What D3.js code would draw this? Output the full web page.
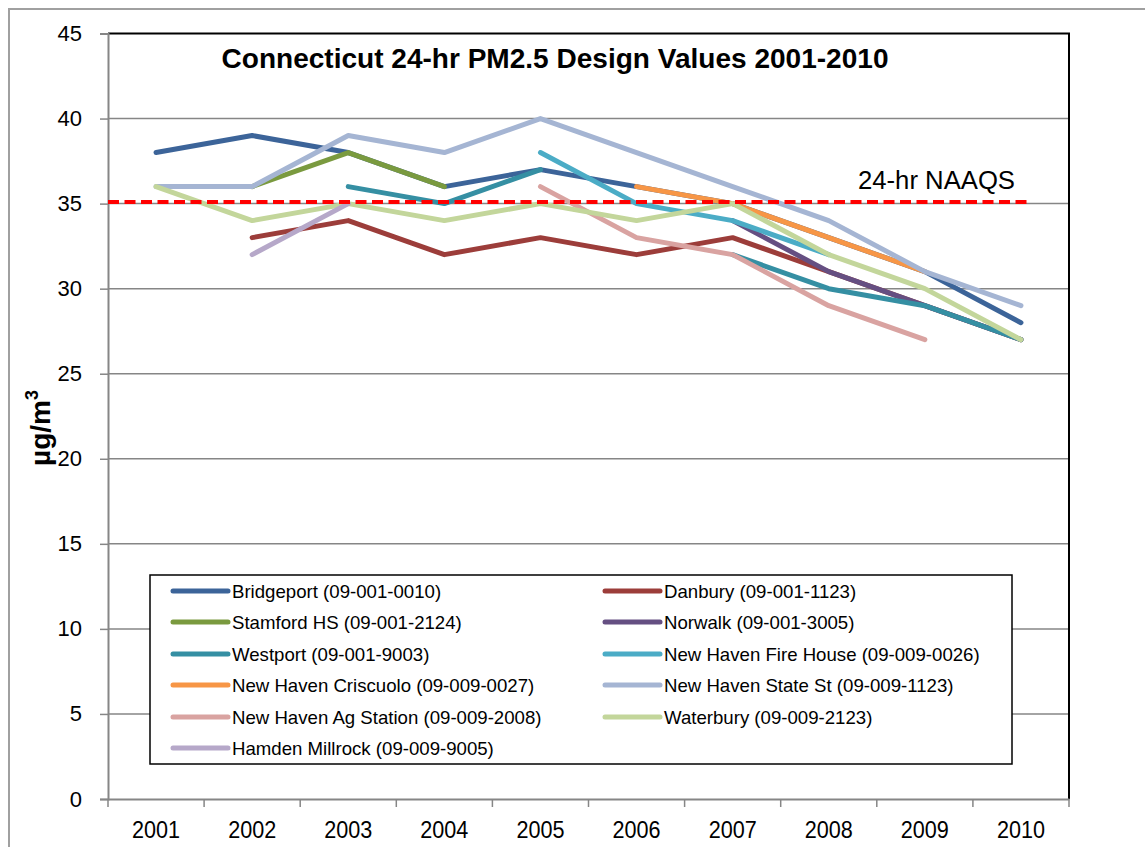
<!DOCTYPE html>
<html>
<head>
<meta charset="utf-8">
<script src="https://cdn.jsdelivr.net/npm/d3@7"></script>
<style>
  body { margin: 0; background: #fff; }
  text { font-family: "Liberation Sans", Arial, sans-serif; }
</style>
</head>
<body>
<script>
// years on the x axis
var years = ["2001","2002","2003","2004","2005","2006","2007","2008","2009","2010"];
var yTicks = [0,5,10,15,20,25,30,35,40,45];
var naaqs = 35.1;

// design values by site (null = no value)
var bridgeport = [38,39,38,36,37,36,35,33,31,28];
var danbury    = [null,33,34,32,33,32,33,31,29,27];
var stamford   = [null,36,38,36,null,null,null,null,null,null];
var norwalk    = [null,null,null,null,null,null,34,31,29,27];
var westport   = [null,null,36,35,37,null,32,30,29,27];
var fireHouse  = [null,null,null,null,38,35,34,32,null,null];
var criscuolo  = [null,null,null,null,null,36,35,33,31,null];
var stateSt    = [36,36,39,38,40,38,36,34,31,29];
var agStation  = [null,null,null,null,36,33,32,29,27,null];
var waterbury  = [36,34,35,34,35,34,35,32,30,27];
var hamden     = [null,32,35,null,null,null,null,null,null,null];

var names = ["Bridgeport (09-001-0010)","Danbury (09-001-1123)","Stamford HS (09-001-2124)",
  "Norwalk (09-001-3005)","Westport (09-001-9003)","New Haven Fire House (09-009-0026)",
  "New Haven Criscuolo (09-009-0027)","New Haven State St (09-009-1123)",
  "New Haven Ag Station (09-009-2008)","Waterbury (09-009-2123)","Hamden Millrock (09-009-9005)"];
var colors = ["#3c6499","#9c3d3a","#7a9a3f","#654f82","#358fa3","#4bacc6",
  "#f79646","#a5b5d3","#d9a3a1","#c3d69b","#b6a8c9"];
var seriesVals = [bridgeport,danbury,stamford,norwalk,westport,fireHouse,
  criscuolo,stateSt,agStation,waterbury,hamden];

var W = 1145, H = 847;
var plot = {left: 108, right: 1069, top: 33.5, bottom: 799};

var svg = d3.select("body").append("svg")
    .attr("width", W)
    .attr("height", H);

// squeeze the text a bit, the original font is Calibri
function narrow(sel, f) {
  sel.each(function() {
    var len = this.getComputedTextLength();
    d3.select(this).attr("textLength", len * f).attr("lengthAdjust", "spacingAndGlyphs");
  });
}

// outer chart border
svg.append("rect")
  .attr("x", 9).attr("y", 9)
  .attr("width", W + 20).attr("height", H + 20)
  .attr("fill", "none")
  .attr("stroke", "#a0a0a0")
  .attr("stroke-width", 2);

var x = d3.scaleBand()
    .domain(years)
    .range([plot.left, plot.right]);

var y = d3.scaleLinear()
    .domain([0, 45])
    .range([plot.bottom, plot.top]);

// gridlines
svg.append("g")
  .selectAll("line")
  .data(yTicks.filter(function(d) { return d > 0 && d < 45; }))
  .join("line")
    .attr("x1", plot.left).attr("x2", plot.right)
    .attr("y1", function(d) { return y(d); })
    .attr("y2", function(d) { return y(d); })
    .attr("stroke", "#868686")
    .attr("stroke-width", 1.5);

// plot frame top and right
svg.append("path")
  .attr("d", "M" + plot.left + "," + plot.top + "H" + plot.right + "V" + plot.bottom)
  .attr("fill", "none")
  .attr("stroke", "#000")
  .attr("stroke-width", 2);

// y axis
var yAxis = svg.append("g")
  .attr("transform", "translate(" + plot.left + ",0)")
  .call(d3.axisLeft(y).tickValues(yTicks).tickSize(8).tickPadding(18));
yAxis.select(".domain").attr("stroke", "#868686").attr("stroke-width", 2);
yAxis.selectAll(".tick line").attr("stroke", "#868686").attr("stroke-width", 1.5);
yAxis.selectAll(".tick text")
  .attr("font-family", "'Liberation Sans', Arial, sans-serif")
  .attr("font-size", 22)
  .attr("fill", "#000");

// x axis
var xAxis = svg.append("g")
  .attr("transform", "translate(0," + plot.bottom + ")")
  .call(d3.axisBottom(x).tickSize(0).tickPadding(22));
xAxis.select(".domain").attr("stroke", "#868686").attr("stroke-width", 2);
xAxis.selectAll(".tick text")
  .attr("font-family", "'Liberation Sans', Arial, sans-serif")
  .attr("font-size", 24)
  .attr("fill", "#000")
  .call(narrow, 0.9);
// category boundary ticks
xAxis.append("g")
  .selectAll("line")
  .data(years.concat(["end"]))
  .join("line")
    .attr("x1", function(d, i) { return plot.left + i * x.step(); })
    .attr("x2", function(d, i) { return plot.left + i * x.step(); })
    .attr("y1", 0).attr("y2", 8)
    .attr("stroke", "#868686")
    .attr("stroke-width", 1.5);

// y axis title
svg.append("text")
  .attr("transform", "translate(50,428) rotate(-90)")
  .attr("text-anchor", "middle")
  .attr("font-size", 28)
  .attr("font-weight", "bold")
  .html("µg/m<tspan dy='-12' font-size='18'>3</tspan>");

// title
svg.append("text")
  .attr("x", 555).attr("y", 68)
  .attr("text-anchor", "middle")
  .attr("font-size", 27)
  .attr("font-weight", "bold")
  .attr("textLength", 667)
  .attr("lengthAdjust", "spacingAndGlyphs")
  .text("Connecticut 24-hr PM2.5 Design Values 2001-2010");

// lines
var line = d3.line()
    .defined(function(d) { return d.v != null; })
    .x(function(d) { return x(d.year) + x.bandwidth() / 2; })
    .y(function(d) { return y(d.v); });

seriesVals.forEach(function(vals, i) {
  var pts = years.map(function(yr, j) { return {year: yr, v: vals[j]}; });
  svg.append("path")
    .attr("d", line(pts))
    .attr("fill", "none")
    .attr("stroke", colors[i])
    .attr("stroke-width", 5)
    .attr("stroke-linecap", "round")
    .attr("stroke-linejoin", "round");
});

// NAAQS line
svg.append("line")
  .attr("x1", plot.left).attr("x2", 1031)
  .attr("y1", y(naaqs)).attr("y2", y(naaqs))
  .attr("stroke", "#ff0000")
  .attr("stroke-width", 4)
  .attr("stroke-dasharray", "11,5.5");

svg.append("text")
  .attr("x", 858).attr("y", 189)
  .attr("font-size", 25)
  .attr("textLength", 157)
  .attr("lengthAdjust", "spacingAndGlyphs")
  .text("24-hr NAAQS");

// legend
var legend = svg.append("g");
legend.append("rect")
  .attr("x", 150).attr("y", 575)
  .attr("width", 862).attr("height", 189)
  .attr("fill", "#fff")
  .attr("stroke", "#000")
  .attr("stroke-width", 1.5);

var rowY = [591, 622, 654, 685, 717, 748];
var item = legend.selectAll("g.item")
  .data(names)
  .join("g")
    .attr("class", "item")
    .attr("transform", function(d, i) {
      var col = i % 2, row = Math.floor(i / 2);
      return "translate(" + (col ? 605 : 173) + "," + rowY[row] + ")";
    });
item.append("line")
  .attr("x1", 0).attr("x2", 55)
  .attr("stroke", function(d, i) { return colors[i]; })
  .attr("stroke-width", 5)
  .attr("stroke-linecap", "round");
item.append("text")
  .attr("x", 59).attr("y", 7)
  .attr("font-size", 19)
  .text(function(d) { return d; })
  .call(narrow, 0.98);
</script>
</body>
</html>
